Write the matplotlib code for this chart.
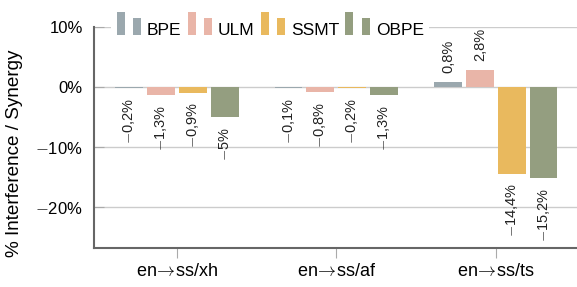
import numpy as np
import matplotlib
matplotlib.use("Agg")
import matplotlib.pyplot as plt
from matplotlib.patches import Rectangle
from matplotlib.legend_handler import HandlerBase

plt.rcParams['font.family'] = ['Liberation Sans', 'DejaVu Sans']
plt.rcParams['mathtext.fontset'] = 'cm'

# data
groups = [r'en$\!\rightarrow\!$ss/xh', r'en$\!\rightarrow\!$ss/af',
          r'en$\!\rightarrow\!$ss/ts']
methods = ['BPE', 'ULM', 'SSMT', 'OBPE']
bpe = [-0.2, -0.1, 0.8]
ulm = [-1.3, -0.8, 2.8]
ssmt = [-0.9, -0.2, -14.4]
obpe = [-5, -1.3, -15.2]
series = [bpe, ulm, ssmt, obpe]
colors = ['#9ba8ae', '#e9b5a8', '#e9b95e', '#949e80']
yticks = [-20, -10, 0, 10]


def fmt(v):
    s = '{:g}'.format(abs(v)).replace('.', ',') + '%'
    return ('$-$' if v < 0 else '') + s


class TwoBar(HandlerBase):
    # two bars of different height, standing on the text baseline
    def create_artists(self, legend, orig_handle, xdescent, ydescent,
                       width, height, fontsize, trans):
        c = orig_handle.get_facecolor()
        w = width / 3.0
        r1 = Rectangle((-xdescent, 0), w, 1.32 * fontsize, facecolor=c,
                       edgecolor='none', transform=trans)
        r2 = Rectangle((-xdescent + 2 * w, 0), w, 0.98 * fontsize, facecolor=c,
                       edgecolor='none', transform=trans)
        return [r1, r2]


fig = plt.figure(figsize=(5.77, 2.87), dpi=100)
ax = fig.add_axes([0.163, 0.136, 0.837, 0.770])

x = np.arange(len(groups))
step = 0.2
width = 0.175
handles = []
for i, (vals, col) in enumerate(zip(series, colors)):
    pos = x + (i - 1.5) * step
    bars = ax.bar(pos, vals, width, color=col, zorder=3, label=methods[i])
    handles.append(bars[0])
    for p, v in zip(pos, vals):
        if v < 0:
            ax.annotate(fmt(v), (p, v), xytext=(0, -7), textcoords='offset points',
                        rotation=90, ha='center', va='top', fontsize=10.5,
                        color='#222222')
        else:
            ax.annotate(fmt(v), (p, v), xytext=(0, 7), textcoords='offset points',
                        rotation=90, ha='center', va='bottom', fontsize=10.5,
                        color='#222222')

ax.set_xlim(-0.52, 2.51)
ax.set_ylim(-26.8, 10.05)
ax.set_yticks(yticks)
ax.set_yticklabels([fmt(t) for t in yticks], fontsize=12)
ax.set_xticks(x)
ax.set_xticklabels(groups, fontsize=13)
ax.set_ylabel('% Interference / Synergy', fontsize=13.6)
ax.yaxis.set_label_coords(-0.148, 0.43)

ax.yaxis.grid(True, color='#cccccc', linewidth=1.0, zorder=0)
ax.tick_params(axis='y', direction='in', length=7, color='#aaaaaa', pad=8)
ax.tick_params(axis='x', direction='out', length=7, color='#aaaaaa', pad=4)
for s in ['top', 'right']:
    ax.spines[s].set_visible(False)
for s in ['left', 'bottom']:
    ax.spines[s].set_color('#666666')
    ax.spines[s].set_linewidth(1.5)

leg = fig.legend(handles, methods, handler_map={h: TwoBar() for h in handles},
                 loc='upper left', bbox_to_anchor=(0.193, 0.957), ncol=4,
                 fontsize=12.5, frameon=True, handlelength=1.4, handleheight=1.65,
                 handletextpad=0.35, columnspacing=0.35, borderpad=0.3,
                 borderaxespad=0.0)
leg.get_frame().set_facecolor('white')
leg.get_frame().set_edgecolor('none')
leg.get_frame().set_alpha(1.0)

plt.savefig('out.png', dpi=100)
